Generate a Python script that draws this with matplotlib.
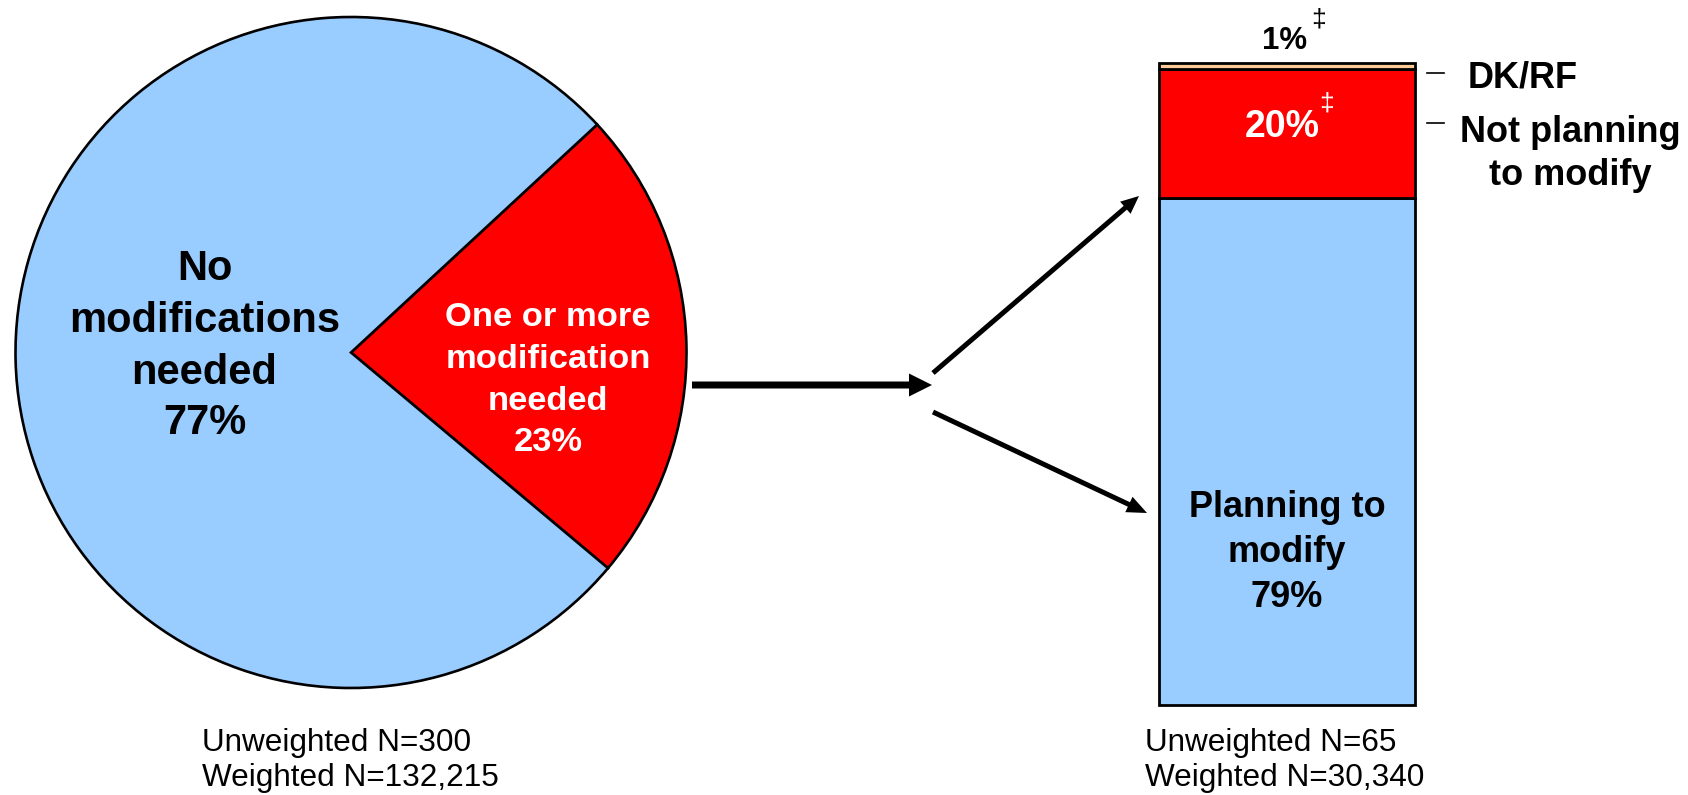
import matplotlib.pyplot as plt

plt.rcParams['font.family'] = ['Liberation Sans', 'DejaVu Sans']

W, H = 1688, 795

# pie data
pie_labels = ["One or more\nmodification\nneeded", "No\nmodifications\nneeded"]
pie_values = [23, 77]
pie_colors = ["#FF0000", "#99CCFF"]

# stacked bar data (bottom to top)
bar_labels = ["Planning to\nmodify", "Not planning\nto modify", "DK/RF"]
bar_values = [79, 20, 1]
bar_colors = ["#99CCFF", "#FF0000", "#FFCC99"]

n_left = ["Unweighted N=300", "Weighted N=132,215"]
n_right = ["Unweighted N=65", "Weighted N=30,340"]


def Y(y):
    # pixel row (from top) -> axes y (from bottom)
    return H - y


fig = plt.figure(figsize=(W / 100, H / 100), dpi=100)

# stacked bar (drawn underneath the annotation layer)
bax = fig.add_axes([1159 / W, Y(705) / H, 256 / W, 642 / H])
bottom = 0
for v, c in zip(bar_values, bar_colors):
    bax.bar(0, v, bottom=bottom, width=1, color=c, edgecolor="black",
            linewidth=2.0, clip_on=False)
    bottom += v
bax.set_xlim(-0.5, 0.5)
bax.set_ylim(0, sum(bar_values))
bax.axis("off")
bax.set_zorder(0)

ax = fig.add_axes([0, 0, 1, 1])
ax.set_zorder(1)
ax.pie(pie_values, colors=pie_colors, startangle=-40, counterclock=True,
       center=(351, Y(352.5)), radius=335.5,
       wedgeprops=dict(edgecolor="black", linewidth=1.9))
ax.set_xlim(0, W)
ax.set_ylim(0, H)
ax.set_aspect("auto")
ax.axis("off")


def lines(x, ys, text, size, color, bold=True, ha="center"):
    for y, t in zip(ys, text.split("\n")):
        ax.text(x, Y(y), t, ha=ha, va="baseline", fontsize=size, color=color,
                fontweight="bold" if bold else "normal")


# pie labels
lines(204.5, [280, 332.5, 384, 434],
      pie_labels[1] + "\n%d%%" % pie_values[1], 30, "black")
lines(548, [326, 368, 410, 451],
      pie_labels[0] + "\n%d%%" % pie_values[0], 24.8, "white")

# bar labels
lines(1287, [517, 562, 607], bar_labels[0] + "\n%d%%" % bar_values[0], 26, "black")
ax.text(1320, Y(137), "%d%%" % bar_values[1], ha="right", va="baseline",
        fontsize=27, color="white", fontweight="bold")
ax.text(1319, Y(92), "\u2021", ha="left", va="top", fontsize=19, color="white")
ax.text(1307, Y(49), "%d%%" % bar_values[2], ha="right", va="baseline",
        fontsize=22.5, color="black", fontweight="bold")
ax.text(1311, Y(7), "\u2021", ha="left", va="top", fontsize=19, color="black")

# right-side labels with short dashes
ax.plot([1427, 1444], [Y(73), Y(73)], color="black", linewidth=1.2)
ax.plot([1427, 1444], [Y(123), Y(123)], color="black", linewidth=1.2)
ax.text(1468, Y(87), bar_labels[2], ha="left", va="baseline", fontsize=26,
        fontweight="bold")
lines(1570, [141.5, 185], bar_labels[1], 26, "black")

# arrows
ax.arrow(692, Y(385), 240, 0, width=7, head_width=23, head_length=23,
         length_includes_head=True, color="black", linewidth=0)
ax.arrow(933, Y(373), 206, Y(196) - Y(373), width=5, head_width=16,
         head_length=18, length_includes_head=True, color="black", linewidth=0)
ax.arrow(933, Y(412), 214, Y(513) - Y(412), width=5, head_width=17,
         head_length=20, length_includes_head=True, color="black", linewidth=0)

# sample sizes
lines(201.5, [751, 786], "\n".join(n_left), 22.7, "black", bold=False, ha="left")
lines(1145, [751, 786], "\n".join(n_right), 22.7, "black", bold=False, ha="left")

fig.savefig("out.png", dpi=100, facecolor="white")
